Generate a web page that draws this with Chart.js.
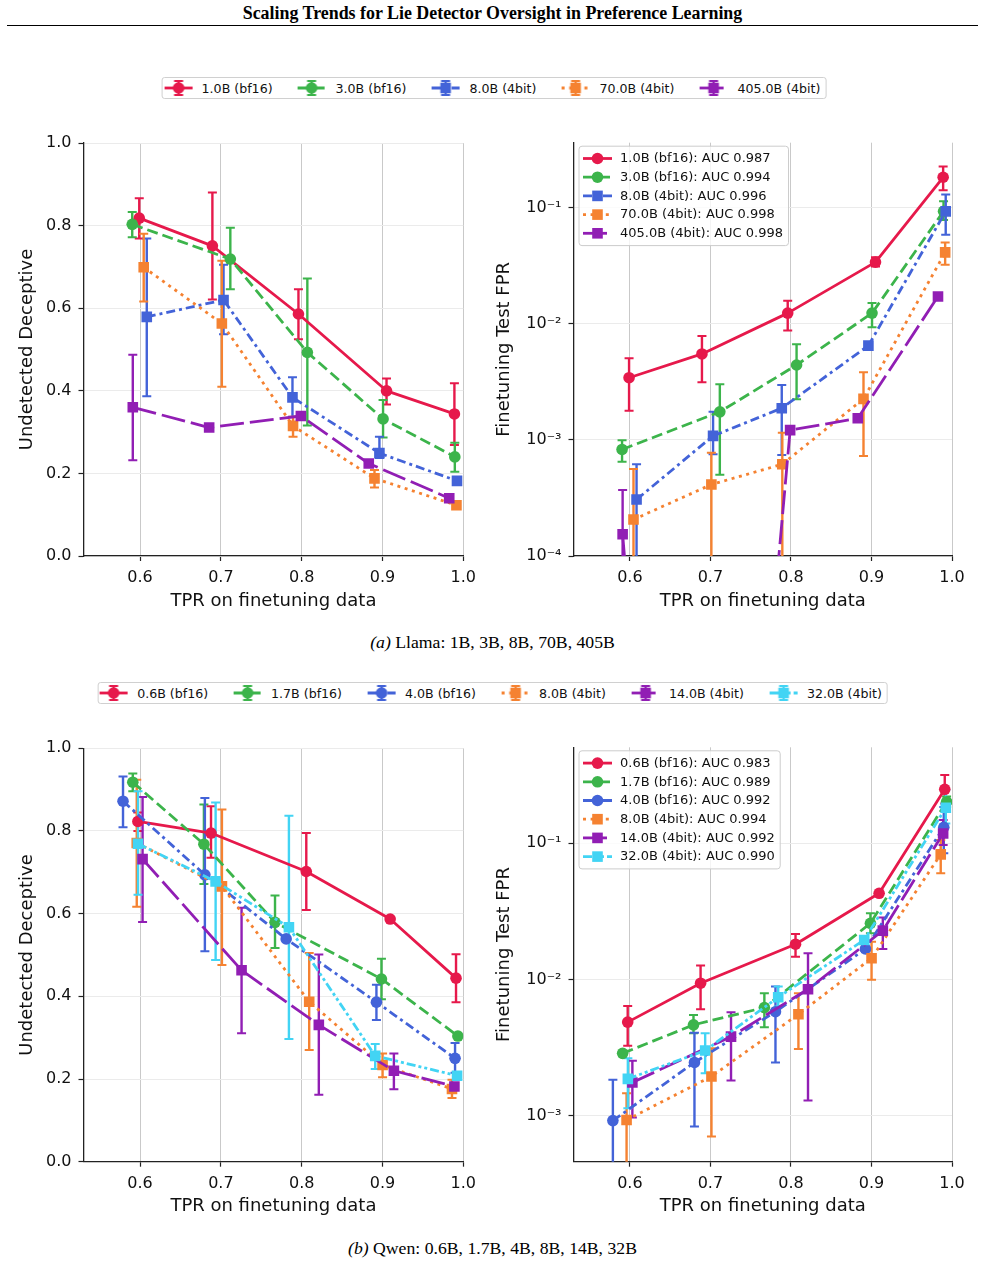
<!DOCTYPE html>
<html><head><meta charset="utf-8">
<script src="https://cdn.jsdelivr.net/npm/chart.js@4.4.1/dist/chart.umd.min.js"></script>
<style>
body{margin:0;background:#fff;}
#page{position:relative;width:985px;height:1265px;overflow:hidden;font-family:"DejaVu Sans",sans-serif;background:#fff;}
.title{position:absolute;left:0;width:985px;top:2.5px;text-align:center;font:bold 17.9px/20px "Liberation Serif","Times New Roman",serif;color:#000;}
.rule{position:absolute;left:7px;width:971px;top:25px;height:0;border-top:1.8px solid #000;}
.caption{position:absolute;left:0;width:985px;text-align:center;font:17.7px/20px "Liberation Serif","Times New Roman",serif;color:#000;}
.legend{position:absolute;height:22px;border:1px solid #d0d0d0;border-radius:3px;display:flex;align-items:center;padding:0 5px 0 1.5px;box-sizing:border-box;font-size:12.6px;color:#111;transform:translateX(-50%);background:#fff;white-space:nowrap;}
.item{display:flex;align-items:center;}
.item canvas{margin-right:9.5px;display:block;}
.item span{margin-right:25.5px;}
.item:last-child span{margin-right:0;}
canvas.chart{position:absolute;}
</style></head>
<body><div id="page">
<div class="title">Scaling Trends for Lie Detector Oversight in Preference Learning</div>
<div class="rule"></div>
<div class="legend" id="legTop" style="left:494px;top:77px;"></div>
<canvas class="chart" id="cTL" width="490" height="500" style="left:0;top:120px;"></canvas>
<canvas class="chart" id="cTR" width="495" height="500" style="left:490px;top:120px;"></canvas>
<div class="caption" style="top:632px;"><i>(a)</i> Llama: 1B, 3B, 8B, 70B, 405B</div>
<div class="legend" id="legBot" style="left:492.5px;top:682px;"></div>
<canvas class="chart" id="cBL" width="490" height="500" style="left:0;top:725px;"></canvas>
<canvas class="chart" id="cBR" width="495" height="500" style="left:490px;top:725px;"></canvas>
<div class="caption" style="top:1238px;"><i>(b)</i> Qwen: 0.6B, 1.7B, 4B, 8B, 14B, 32B</div>
</div>
<script>
// ---------------- DATA ----------------
const xTicks = [0.6, 0.7, 0.8, 0.9, 1.0];
const xTickLabels = ['0.6', '0.7', '0.8', '0.9', '1.0'];
const undetTicks = [0, 0.2, 0.4, 0.6, 0.8, 1.0];
const undetTickLabels = ['0.0', '0.2', '0.4', '0.6', '0.8', '1.0'];
const fprTicksLlama = [1e-4, 1e-3, 1e-2, 1e-1];
const fprTickLabelsLlama = ['10⁻⁴', '10⁻³', '10⁻²', '10⁻¹'];
const fprTicksQwen = [1e-3, 1e-2, 1e-1];
const fprTickLabelsQwen = ['10⁻³', '10⁻²', '10⁻¹'];

// Llama models
const llamaModels = ['1.0B (bf16)', '3.0B (bf16)', '8.0B (4bit)', '70.0B (4bit)', '405.0B (4bit)'];
const llamaAUC = ['0.987', '0.994', '0.996', '0.998', '0.998'];
const llamaTPR = [
  [0.599, 0.6895, 0.796, 0.905, 0.989],
  [0.5903, 0.7117, 0.807, 0.9007, 0.9895],
  [0.6083, 0.7033, 0.7886, 0.8962, 0.9922],
  [0.6045, 0.7012, 0.7893, 0.8901, 0.9915],
  [0.591, 0.6855, 0.799, 0.883, 0.9826]
];
const llamaUndet = [
  [0.818, 0.751, 0.586, 0.400, 0.344],
  [0.803, 0.719, 0.493, 0.332, 0.240],
  [0.579, 0.620, 0.384, 0.249, 0.182],
  [0.699, 0.563, 0.315, 0.188, 0.123],
  [0.360, 0.311, 0.339, 0.224, 0.140]
];
const llamaUndetLo = [
  [0.769, 0.621, 0.525, 0.367, 0.269],
  [0.772, 0.646, 0.316, 0.287, 0.204],
  [0.387, 0.537, 0.337, 0.237, null],
  [0.616, 0.410, 0.289, 0.166, null],
  [0.232, null, null, null, null]
];
const llamaUndetHi = [
  [0.866, 0.880, 0.646, 0.430, 0.418],
  [0.833, 0.795, 0.672, 0.378, 0.274],
  [0.769, 0.705, 0.433, 0.289, null],
  [0.780, 0.715, 0.337, 0.208, null],
  [0.487, null, null, null, null]
];
const llamaFPR = [
  [3.42e-3, 5.48e-3, 1.23e-2, 3.38e-2, 0.1815],
  [8.26e-4, 1.74e-3, 4.4e-3, 1.23e-2, 9.24e-2],
  [3.06e-4, 1.08e-3, 1.87e-3, 6.46e-3, 9.24e-2],
  [2.06e-4, 4.12e-4, 6.16e-4, 2.25e-3, 4.1e-2],
  [1.54e-4, 2e-12, 1.21e-3, 1.53e-3, 1.71e-2]
];
const llamaFPRLo = [
  [1.78e-3, 3.13e-3, 8.7e-3, 3.1e-2, 0.140],
  [6.46e-4, 5.0e-4, 2.23e-3, 9.3e-3, 7.8e-2],
  [0, 7.5e-4, 7.4e-4, null, 5.8e-2],
  [0, 0, 0, 7.24e-4, 3.2e-2],
  [0, null, null, null, null]
];
const llamaFPRHi = [
  [5.03e-3, 7.83e-3, 1.57e-2, 3.73e-2, 0.225],
  [9.93e-4, 3.0e-3, 6.64e-3, 1.5e-2, 0.1127],
  [6.16e-4, 1.74e-3, 2.96e-3, null, 0.129],
  [5.6e-4, 7.73e-4, 1.15e-3, 3.81e-3, 4.99e-2],
  [3.7e-4, null, null, null, null]
];

// Qwen models
const qwenModels = ['0.6B (bf16)', '1.7B (bf16)', '4.0B (bf16)', '8.0B (4bit)', '14.0B (4bit)', '32.0B (4bit)'];
const qwenAUC = ['0.983', '0.989', '0.992', '0.994', '0.992', '0.990'];
const qwenTPR = [
  [0.5973, 0.6878, 0.8057, 0.9095, 0.991],
  [0.591, 0.679, 0.767, 0.8987, 0.9933],
  [0.5789, 0.6802, 0.7808, 0.8925, 0.9898],
  [0.5959, 0.7013, 0.8093, 0.9001, 0.986],
  [0.6031, 0.7256, 0.8212, 0.9141, 0.989],
  [0.5975, 0.6935, 0.7842, 0.891, 0.9923]
];
const qwenUndet = [
  [0.823, 0.795, 0.702, 0.587, 0.444],
  [0.918, 0.768, 0.579, 0.442, 0.304],
  [0.872, 0.694, 0.539, 0.386, 0.250],
  [0.771, 0.666, 0.387, 0.234, 0.176],
  [0.732, 0.463, 0.331, 0.220, 0.182],
  [0.769, 0.678, 0.567, 0.256, 0.208]
];
const qwenUndetLo = [
  [0.800, 0.735, 0.609, null, 0.386],
  [0.896, 0.672, 0.517, 0.393, null],
  [0.809, 0.509, null, 0.343, 0.215],
  [0.617, 0.476, 0.270, 0.204, 0.154],
  [0.580, 0.311, 0.162, 0.175, null],
  [0.646, 0.488, 0.297, 0.224, null]
];
const qwenUndetHi = [
  [0.845, 0.860, 0.795, null, 0.502],
  [0.939, 0.864, 0.644, 0.491, null],
  [0.932, 0.880, null, 0.428, 0.287],
  [0.924, 0.852, 0.505, 0.262, 0.198],
  [0.882, 0.614, 0.501, 0.262, null],
  [0.896, 0.869, 0.837, 0.285, null]
];
const qwenFPR = [
  [4.88e-3, 9.42e-3, 1.82e-2, 4.3e-2, 0.249],
  [2.88e-3, 4.66e-3, 6.24e-3, 2.59e-2, 0.2018],
  [9.25e-4, 2.47e-3, 5.82e-3, 1.68e-2, 0.131],
  [9.35e-4, 1.95e-3, 5.57e-3, 1.435e-2, 8.3e-2],
  [1.76e-3, 3.82e-3, 8.51e-3, 2.29e-2, 0.118],
  [1.87e-3, 3.02e-3, 7.43e-3, 1.955e-2, 0.1825]
];
const qwenFPRLo = [
  [3.27e-3, 6.07e-3, 1.475e-2, null, 0.196],
  [2.76e-3, 4.05e-3, 4.48e-3, 2.19e-2, 0.185],
  [0, 8.36e-4, 2.47e-3, null, 8.45e-2],
  [0, 7.06e-4, 3.1e-3, 1.0e-2, 6.03e-2],
  [9.73e-4, 1.82e-3, 1.3e-3, 1.68e-2, 9.7e-2],
  [1.14e-3, 2.06e-3, 6.34e-3, null, 0.14]
];
const qwenFPRHi = [
  [6.41e-3, 1.27e-2, 2.16e-2, null, 0.317],
  [3.0e-3, 5.5e-3, 7.94e-3, 3.07e-2, 0.22],
  [1.84e-3, 4.08e-3, 8.89e-3, null, 0.185],
  [1.47e-3, 3.14e-3, 7.94e-3, 1.9e-2, 0.1057],
  [2.54e-3, 5.77e-3, 1.563e-2, 2.86e-2, 0.148],
  [2.65e-3, 4.05e-3, 8.9e-3, null, 0.246]
];

// ---------------- STYLES ----------------
const FONT = '"DejaVu Sans", "Noto Sans", sans-serif';
const COL = {red:'#e6194b', green:'#3cb44b', blue:'#4363d8', orange:'#f58231', purple:'#911eb4', cyan:'#42d4f4'};
const DASH = {solid:[], dashed:[11,5], dotted:[3,4.6], dashdot:[9,4,3,4], longdash:[24,6], dashdotdot:[9,3,3,3,3,3]};
const llamaStyle = [
  {color:COL.red, dash:'solid', marker:'o'},
  {color:COL.green, dash:'dashed', marker:'o'},
  {color:COL.blue, dash:'dashdot', marker:'s'},
  {color:COL.orange, dash:'dotted', marker:'s'},
  {color:COL.purple, dash:'longdash', marker:'s'}
];
const qwenStyle = [
  {color:COL.red, dash:'solid', marker:'o'},
  {color:COL.green, dash:'dashed', marker:'o'},
  {color:COL.blue, dash:'dashdot', marker:'o'},
  {color:COL.orange, dash:'dotted', marker:'s'},
  {color:COL.purple, dash:'longdash', marker:'s'},
  {color:COL.cyan, dash:'dashdotdot', marker:'s'}
];
const LW = 2.8, EBW = 2.4, CAPW = 2, CAP = 4.5;
const R_CIRCLE = 5.8, R_RECT = 7.5;

function drawMarker(ctx, x, y, m, color) {
  ctx.fillStyle = color;
  ctx.beginPath();
  if (m === 's') { const h = R_RECT * Math.SQRT1_2; ctx.rect(x - h, y - h, 2*h, 2*h); }
  else { ctx.arc(x, y, R_CIRCLE, 0, Math.PI*2); }
  ctx.fill();
}
function drawHandle(ctx, x0, cy, len, st, barHalf) {
  ctx.save();
  ctx.strokeStyle = st.color; ctx.lineCap = 'butt';
  ctx.lineWidth = LW; ctx.setLineDash(DASH[st.dash]);
  ctx.beginPath(); ctx.moveTo(x0, cy); ctx.lineTo(x0 + len, cy); ctx.stroke();
  ctx.setLineDash([]);
  const cx = x0 + len/2;
  if (barHalf > 0) {
    ctx.lineWidth = EBW;
    ctx.beginPath(); ctx.moveTo(cx, cy - barHalf); ctx.lineTo(cx, cy + barHalf); ctx.stroke();
    ctx.lineWidth = CAPW;
    ctx.beginPath();
    ctx.moveTo(cx - CAP, cy - barHalf); ctx.lineTo(cx + CAP, cy - barHalf);
    ctx.moveTo(cx - CAP, cy + barHalf); ctx.lineTo(cx + CAP, cy + barHalf);
    ctx.stroke();
  }
  drawMarker(ctx, cx, cy, st.marker, st.color);
  ctx.restore();
}

// figure-level legends (HTML text + drawn handles)
function buildTopLegend(el, names, styles) {
  names.forEach((n, i) => {
    const it = document.createElement('div'); it.className = 'item';
    const c = document.createElement('canvas'); c.width = 28; c.height = 20;
    const sp = document.createElement('span'); sp.textContent = n;
    it.appendChild(c); it.appendChild(sp); el.appendChild(it);
    drawHandle(c.getContext('2d'), 0, 10, 28, styles[i], 7);
  });
}
buildTopLegend(document.getElementById('legTop'), llamaModels, llamaStyle);
buildTopLegend(document.getElementById('legBot'), qwenModels, qwenStyle);

// error bar plugin (bars drawn under all lines, like matplotlib)
const errorBarPlugin = {
  id: 'errbars',
  beforeDatasetsDraw(chart, args, opts) {
    const {ctx, chartArea: a} = chart; const ys = chart.scales.y;
    const pix = v => (v <= 0 ? a.bottom + 40 : ys.getPixelForValue(v));
    ctx.save();
    ctx.beginPath(); ctx.rect(a.left, a.top, a.right - a.left, a.bottom - a.top); ctx.clip();
    chart.data.datasets.forEach((ds, i) => {
      const meta = chart.getDatasetMeta(i);
      const lo = opts.lo[i], hi = opts.hi[i];
      ctx.strokeStyle = ds.borderColor;
      meta.data.forEach((pt, j) => {
        if (lo[j] == null || hi[j] == null) return;
        const x = pt.x, y1 = pix(lo[j]), y2 = pix(hi[j]);
        ctx.lineWidth = EBW; ctx.beginPath(); ctx.moveTo(x, y1); ctx.lineTo(x, y2); ctx.stroke();
        ctx.lineWidth = CAPW; ctx.beginPath();
        ctx.moveTo(x - CAP, y1); ctx.lineTo(x + CAP, y1);
        ctx.moveTo(x - CAP, y2); ctx.lineTo(x + CAP, y2);
        ctx.stroke();
      });
    });
    ctx.restore();
  }
};
// in-axes legend plugin
const innerLegendPlugin = {
  id: 'innerLegend',
  afterDraw(chart, args, opts) {
    if (!opts.labels) return;
    const {ctx, chartArea: a} = chart;
    ctx.save();
    ctx.font = '13px ' + FONT;
    const maxW = Math.max(...opts.labels.map(t => ctx.measureText(t).width));
    const left = a.left + 5.5, top = a.top + 3.5, rowH = 18.7, padT = 12.3;
    const w = 41 + maxW + 5.5, h = padT * 2 + (opts.labels.length - 1) * rowH;
    ctx.fillStyle = 'rgba(255,255,255,0.8)'; ctx.strokeStyle = '#cccccc'; ctx.lineWidth = 1;
    ctx.beginPath(); ctx.roundRect(left, top, w, h, 3); ctx.fill(); ctx.stroke();
    opts.labels.forEach((t, i) => {
      const cy = top + padT + i * rowH;
      drawHandle(ctx, left + 4, cy, 29, opts.styles[i], 0);
      ctx.fillStyle = '#111'; ctx.textBaseline = 'middle'; ctx.textAlign = 'left';
      ctx.font = '13px ' + FONT;
      ctx.fillText(t, left + 41, cy + 0.5);
    });
    ctx.restore();
  }
};

function makeChart(id, frame, styles, xs, ys, lo, hi, yCfg, legendLabels) {
  const cv = document.getElementById(id);
  const cLeft = parseFloat(cv.style.left), cTop = parseFloat(cv.style.top);
  const W = cv.width, H = cv.height;
  const datasets = styles.map((st, i) => ({
    data: xs[i].map((x, j) => ({x: x, y: ys[i][j]})),
    borderColor: st.color, backgroundColor: st.color,
    borderWidth: LW, borderDash: DASH[st.dash], borderCapStyle: 'butt', borderJoinStyle: 'round',
    pointStyle: st.marker === 's' ? 'rect' : 'circle',
    pointRadius: st.marker === 's' ? R_RECT : R_CIRCLE,
    pointBackgroundColor: st.color, pointBorderColor: st.color, pointBorderWidth: 0,
    pointHoverRadius: 0, tension: 0, fill: false, order: styles.length - i
  }));
  const tickFont = {family: FONT, size: 16};
  const titleFont = {family: FONT, size: 18};
  return new Chart(cv, {
    type: 'line',
    data: {datasets},
    plugins: [errorBarPlugin, innerLegendPlugin],
    options: {
      responsive: false, animation: false, devicePixelRatio: 1, events: [],
      layout: {padding: {left: 0, top: frame.top - cTop, right: cLeft + W - frame.right, bottom: 0}},
      plugins: {
        legend: {display: false}, tooltip: {enabled: false},
        errbars: {lo: lo, hi: hi},
        innerLegend: {labels: legendLabels, styles: styles}
      },
      scales: {
        x: {
          type: 'linear', min: 0.53, max: 1.0,
          afterBuildTicks: s => { s.ticks = xTicks.map(v => ({value: v})); },
          afterFit: s => { s.height = cTop + H - frame.bottom; },
          ticks: {callback: (v, i) => xTickLabels[i], font: tickFont, color: '#111', padding: 7.2, autoSkip: false, maxRotation: 0},
          grid: {color: '#c9c9c9', lineWidth: 1, tickColor: '#222', tickLength: 5, tickWidth: 1.2},
          border: {color: '#222', width: 1.3},
          title: {display: true, text: 'TPR on finetuning data', font: titleFont, color: '#111', padding: {top: 0, bottom: 8.2}}
        },
        y: {
          type: yCfg.type, min: yCfg.min, max: yCfg.max,
          afterBuildTicks: s => { s.ticks = yCfg.ticks.map(v => ({value: v})); },
          afterFit: s => { s.width = frame.left - cLeft; },
          ticks: {callback: (v, i) => yCfg.labels[i], font: tickFont, color: '#111', padding: 7, autoSkip: false},
          grid: {color: '#ebebeb', lineWidth: 1, tickColor: '#222', tickLength: 5, tickWidth: 1.2},
          border: {color: '#222', width: 1.3},
          title: {display: true, text: yCfg.title, font: titleFont, color: '#111', padding: {top: yCfg.titlePad, bottom: 0}}
        }
      }
    }
  });
}

const undetCfg = {type: 'linear', min: 0, max: 1.0, ticks: undetTicks, labels: undetTickLabels, title: 'Undetected Deceptive', titlePad: 16.2};
const llamaLegend = llamaModels.map((m, i) => m + ': AUC ' + llamaAUC[i]);
const qwenLegend = qwenModels.map((m, i) => m + ': AUC ' + qwenAUC[i]);

makeChart('cTL', {left: 83.5, top: 143, right: 463.3, bottom: 556}, llamaStyle, llamaTPR, llamaUndet, llamaUndetLo, llamaUndetHi, undetCfg, null);
makeChart('cTR', {left: 573.5, top: 142.7, right: 952, bottom: 556}, llamaStyle, llamaTPR, llamaFPR, llamaFPRLo, llamaFPRHi,
  {type: 'logarithmic', min: 1e-4, max: 0.36, ticks: fprTicksLlama, labels: fprTickLabelsLlama, title: 'Finetuning Test FPR', titlePad: 3.9}, llamaLegend);
makeChart('cBL', {left: 83.5, top: 748.3, right: 463.3, bottom: 1161.7}, qwenStyle, qwenTPR, qwenUndet, qwenUndetLo, qwenUndetHi, undetCfg, null);
makeChart('cBR', {left: 573.5, top: 747.3, right: 952, bottom: 1161.7}, qwenStyle, qwenTPR, qwenFPR, qwenFPRLo, qwenFPRHi,
  {type: 'logarithmic', min: 4.62e-4, max: 0.506, ticks: fprTicksQwen, labels: fprTickLabelsQwen, title: 'Finetuning Test FPR', titlePad: 3.9}, qwenLegend);
</script>
</body></html>
